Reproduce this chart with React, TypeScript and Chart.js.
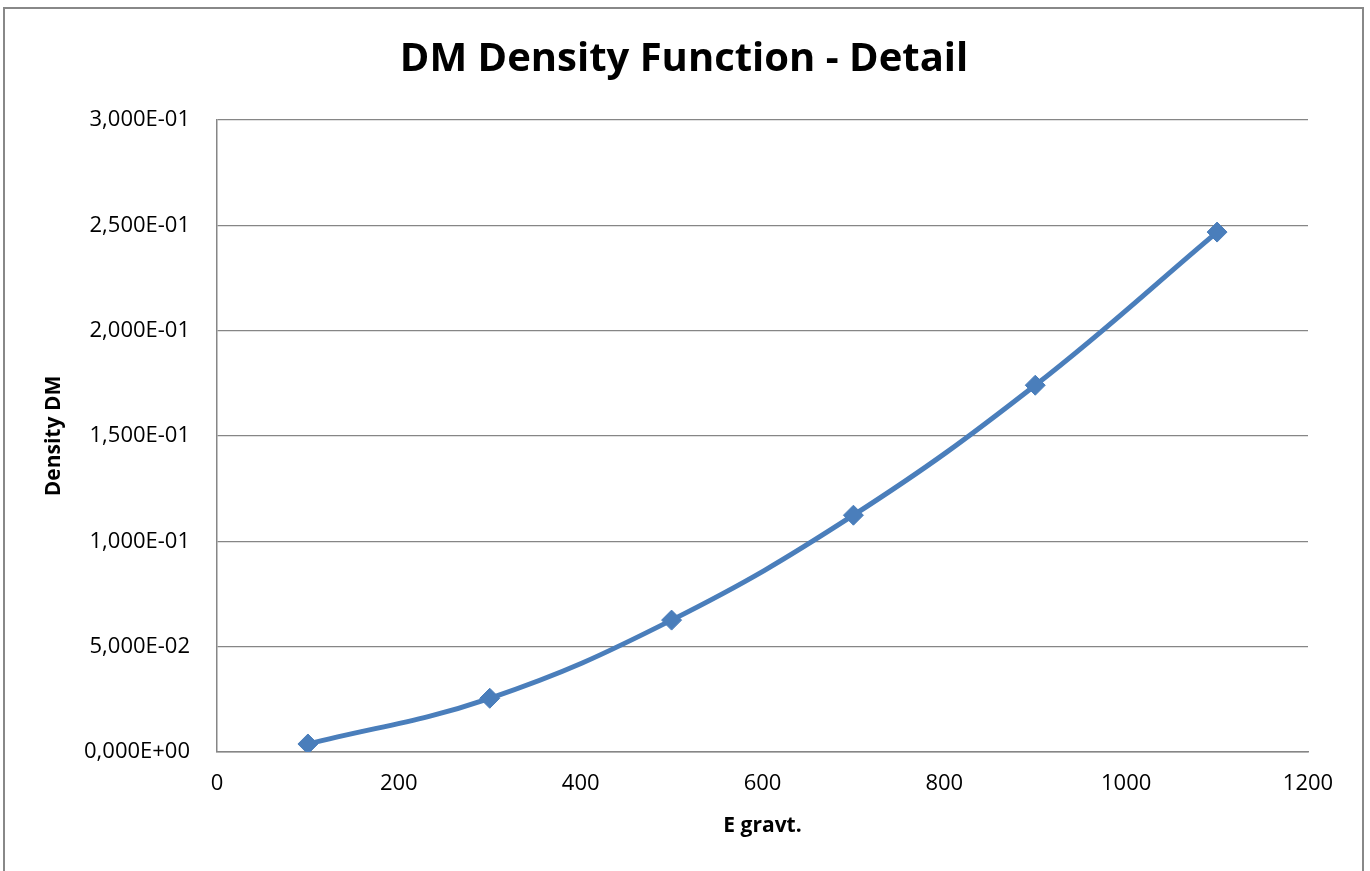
import React, { useEffect, useRef } from "react";
import { Chart, registerables } from "chart.js";

Chart.register(...registerables);

const chartTitle = "DM Density Function - Detail";
const xAxisTitle = "E gravt.";
const yAxisTitle = "Density DM";
const eGravt = [100, 300, 500, 700, 900, 1100];
const densityDM = [0.0038, 0.0255, 0.0626, 0.1124, 0.1741, 0.2468];
const xMin = 0;
const xMax = 1200;
const xStep = 200;
const yMin = 0;
const yMax = 0.3;
const yStep = 0.05;

const FONT = "'Open Sans', 'Noto Sans', sans-serif";
const LINE_BLUE = "#4A7EBB";
const GRID = "#868686";

function fmtSci(v: number): string {
  const s = Number(v).toExponential(3);
  const [mant, expStr] = s.split("e");
  const exp = parseInt(expStr, 10);
  const sign = exp < 0 ? "-" : "+";
  const abs = Math.abs(exp);
  return mant.replace(".", ",") + "E" + sign + (abs < 10 ? "0" + abs : String(abs));
}

const framePlugin = {
  id: "frameAndTitle",
  beforeDraw(chart: any) {
    const ctx = chart.ctx;
    ctx.save();
    ctx.fillStyle = "#ffffff";
    ctx.fillRect(0, 0, chart.width, chart.height);
    ctx.strokeStyle = "#888888";
    ctx.lineWidth = 2;
    ctx.strokeRect(4, 8, 1359, 900);
    ctx.restore();
  },
  afterDraw(chart: any) {
    const ctx = chart.ctx;
    ctx.save();
    ctx.fillStyle = "#000000";
    ctx.font = `bold 40px ${FONT}`;
    ctx.textAlign = "center";
    ctx.textBaseline = "middle";
    ctx.fillText(chartTitle, 684, 60);
    ctx.restore();
  },
};

export default function App() {
  const ref = useRef<HTMLCanvasElement | null>(null);

  useEffect(() => {
    if (!ref.current) return;
    const chart = new Chart(ref.current, {
      type: "line",
      data: {
        datasets: [
          {
            label: yAxisTitle,
            data: eGravt.map((x, i) => ({ x, y: densityDM[i] })),
            borderColor: LINE_BLUE,
            backgroundColor: LINE_BLUE,
            borderWidth: 5,
            tension: 0.4,
            pointStyle: "rectRot",
            pointRadius: 10,
            pointBorderWidth: 1,
            pointBackgroundColor: LINE_BLUE,
            pointBorderColor: LINE_BLUE,
            fill: false,
          },
        ],
      },
      options: {
        animation: false,
        responsive: false,
        maintainAspectRatio: false,
        layout: { padding: { left: 0, right: 62, top: 120, bottom: 0 } },
        plugins: {
          legend: { display: false },
          title: { display: false },
          tooltip: { enabled: false },
        },
        scales: {
          x: {
            type: "linear",
            min: xMin,
            max: xMax,
            grid: { display: false, drawTicks: false },
            border: { display: true, color: GRID, width: 1.5 },
            ticks: {
              stepSize: xStep,
              color: "#000",
              padding: 19,
              font: { family: FONT, size: 22 },
              maxRotation: 0,
              callback: (v: any) => String(v),
            },
            title: {
              display: true,
              text: xAxisTitle,
              color: "#000",
              font: { family: FONT, size: 21, weight: "bold" },
              padding: { top: 0, bottom: 32 },
            },
            afterFit(scale: any) {
              scale.height = 119;
            },
          },
          y: {
            type: "linear",
            min: yMin,
            max: yMax,
            grid: { display: true, drawTicks: false, color: GRID, lineWidth: 1.2 },
            border: { display: true, color: GRID, width: 1.5 },
            ticks: {
              stepSize: yStep,
              color: "#000",
              padding: 27,
              font: { family: FONT, size: 22 },
              callback: (v: any) => fmtSci(Number(v)),
            },
            title: {
              display: true,
              text: yAxisTitle,
              color: "#000",
              font: { family: FONT, size: 21, weight: "bold" },
              padding: { top: 41, bottom: 0 },
            },
            afterFit(scale: any) {
              scale.width = 217;
            },
          },
        },
      },
      plugins: [framePlugin],
    });
    return () => chart.destroy();
  }, []);

  return (
    <div style={{ position: "absolute", left: 0, top: 0, width: 1370, height: 871 }}>
      <canvas ref={ref} width={1370} height={871} style={{ display: "block" }} />
    </div>
  );
}
